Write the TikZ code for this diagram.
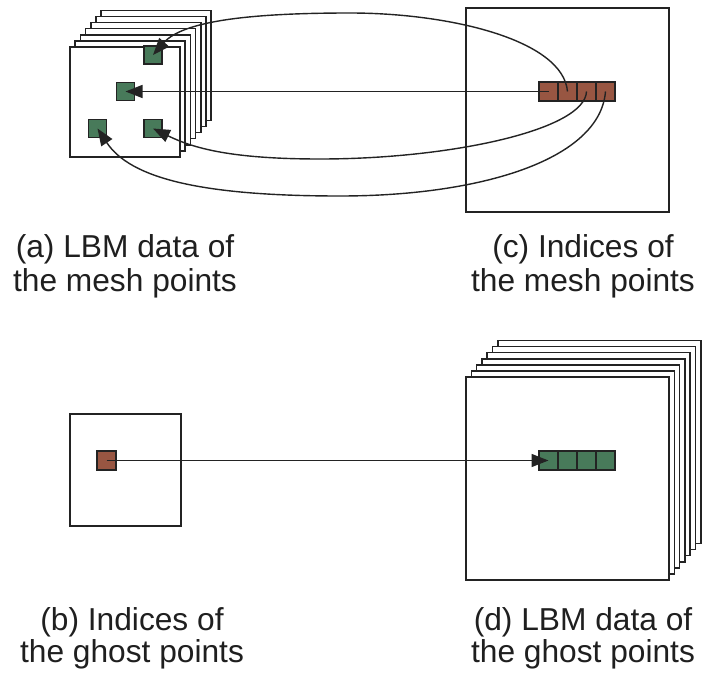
\documentclass[tikz,border=0pt]{standalone}
\usepackage{fontspec}
\setmainfont{Liberation Sans}
\usetikzlibrary{arrows.meta}
\definecolor{cellgreen}{RGB}{72,122,90}
\definecolor{cellbrown}{RGB}{152,86,66}
\definecolor{ink}{RGB}{35,35,35}

\begin{document}
\begin{tikzpicture}[x=1pt,y=-1pt,
  frame/.style={draw=ink,line width=1.6pt,fill=white},
  cell/.style={draw=ink,line width=1.5pt,minimum size=19pt,inner sep=0pt,outer sep=0pt},
  gcell/.style={cell,fill=cellgreen},
  bcell/.style={cell,fill=cellbrown},
  link/.style={draw=ink,line width=1.4pt,-{Triangle[length=17pt,width=13pt]}},
  caption/.style={font=\fontsize{31.7}{33}\selectfont,anchor=base,inner sep=0pt,text=black!88}]
\useasboundingbox (0,0) rectangle (702,674);

% (a) stack of LBM data layers for the mesh points
\foreach \i in {6,5,...,1}
  \draw[frame] (70+5.2*\i,47-6.1*\i) rectangle ++(110,110);
\draw[frame] (70,47) rectangle ++(110,110);
\node[gcell,minimum size=18pt] (g1) at (153,55) {};
\node[gcell,minimum size=18pt] (g2) at (125.5,91.5) {};
\node[gcell,minimum size=18pt] (g3) at (97.5,128.5) {};
\node[gcell,minimum size=18pt] (g4) at (153,128.5) {};

% (c) index array of the mesh points
\draw[frame] (466,8) rectangle (669,212);
\foreach \k in {1,...,4}
  \node[bcell] (c\k) at (529.5+19*\k,91.5) {};

% (b) index of the ghost point
\draw[frame] (70,414) rectangle (181,526);
\node[bcell] (p) at (106.5,460.5) {};

% (d) stack of LBM data layers for the ghost points
\foreach \i in {6,5,...,1}
  \draw[frame] (466+5.3*\i,377-6.1*\i) rectangle ++(203,203);
\draw[frame] (466,377) rectangle ++(203,203);
\foreach \k in {1,...,4}
  \node[gcell] (d\k) at (529.5+19*\k,460.5) {};

% index -> data links
\draw[link] (c1.center) -- (g2.center);
\draw[link] (c2.center) .. controls (563,40) and (450,13) .. (350,13)
  .. controls (250,13) and (183,21) .. (g1.center);
\draw[link] (c3.center) .. controls (585,130) and (450,159) .. (320,159)
  .. controls (230,159) and (193,148) .. (g4.center);
\draw[link] (c4.center) .. controls (600,160) and (480,196) .. (340,196)
  .. controls (200,196) and (130,178) .. (g3.center);
\draw[link] (p.center) -- (d1.center);

% captions
\node[caption] (ta1) at (125,258) {(a) LBM data of};
\node[caption] (ta2) at (125,291) {the mesh points};
\node[caption] (tc1) at (583,258) {(c) Indices of};
\node[caption] (tc2) at (583,291) {the mesh points};
\node[caption] (tb1) at (132,630) {(b) Indices of};
\node[caption] (tb2) at (132,662) {the ghost points};
\node[caption] (td1) at (583,630) {(d) LBM data of};
\node[caption] (td2) at (583,662) {the ghost points};
\end{tikzpicture}
\end{document}
